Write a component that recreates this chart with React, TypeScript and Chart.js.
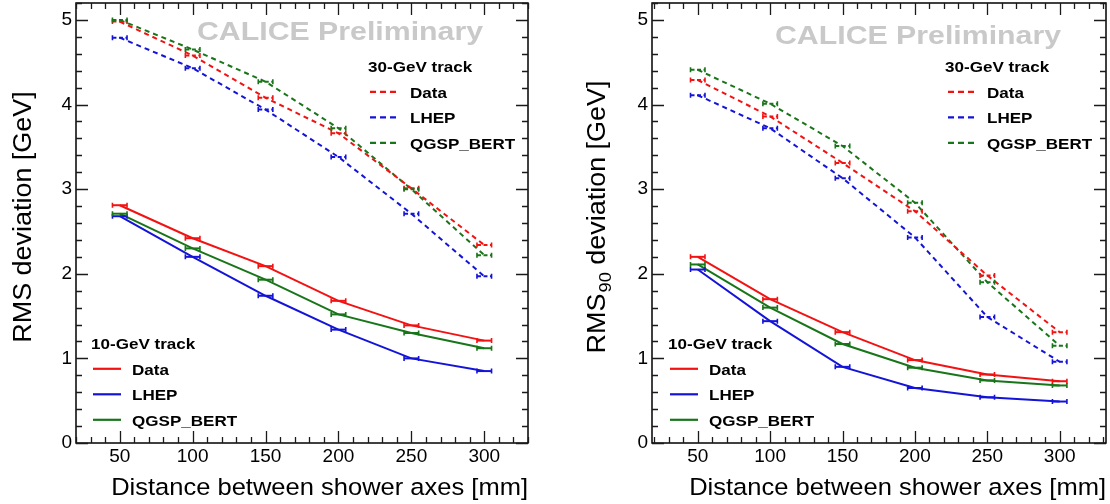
import React, { useEffect, useRef } from 'react';
import { Chart, registerables } from 'chart.js';

Chart.register(...registerables);

// ---------- data ----------
const distances = [50, 100, 150, 200, 250, 300];
const xTickValues = [50, 100, 150, 200, 250, 300];
const yTickValues = [0, 1, 2, 3, 4, 5];
const xErrHalf = 5;
const seriesNames = ['Data', 'LHEP', 'QGSP_BERT'];
const legendTitles = ['30-GeV track', '10-GeV track'];

// left panel: RMS deviation [GeV]
const rms30Data = [4.98, 4.58, 4.08, 3.66, 3.01, 2.34];
const rms30LHEP = [4.79, 4.43, 3.94, 3.38, 2.71, 1.97];
const rms30QGSP = [5.0, 4.65, 4.27, 3.72, 3.0, 2.22];
const rms10Data = [2.81, 2.42, 2.09, 1.68, 1.39, 1.21];
const rms10LHEP = [2.68, 2.2, 1.74, 1.34, 1.0, 0.85];
const rms10QGSP = [2.71, 2.3, 1.93, 1.52, 1.3, 1.12];

// right panel: RMS90 deviation [GeV]
const rms90_30Data = [4.29, 3.86, 3.31, 2.74, 1.98, 1.31];
const rms90_30LHEP = [4.11, 3.72, 3.13, 2.43, 1.49, 0.96];
const rms90_30QGSP = [4.41, 4.01, 3.51, 2.84, 1.9, 1.15];
const rms90_10Data = [2.2, 1.7, 1.31, 0.98, 0.81, 0.73];
const rms90_10LHEP = [2.05, 1.44, 0.9, 0.65, 0.54, 0.49];
const rms90_10QGSP = [2.11, 1.6, 1.17, 0.89, 0.74, 0.68];

const watermark = 'CALICE Preliminary';
const xTitle = 'Distance between shower axes [mm]';

// ---------- style ----------
const FONT = '"Liberation Sans", Arial, Helvetica, sans-serif';
const RED = '#f31212';
const BLUE = '#1414d8';
const GREEN = '#197519';
const colors = [RED, BLUE, GREEN];
const STRETCH = 1.077;

type PanelCfg = {
  left: number;
  yAxisWidth: number;
  padRight: number;
  xMin: number;
  xMax: number;
  series30: number[][];
  series10: number[][];
  yTitleMain: string;
  yTitleSub: string;
  yTitleRest: string;
  yTitleBaseX: number;
  wmX: number;
  wmY: number;
  leg30: { hx: number; sx0: number; sx1: number; tx: number };
  leg10: { hx: number; sx0: number; sx1: number; tx: number };
};

const panels: PanelCfg[] = [
  {
    left: 0,
    yAxisWidth: 76,
    padRight: 27,
    xMin: 20,
    xMax: 330,
    series30: [rms30Data, rms30LHEP, rms30QGSP],
    series10: [rms10Data, rms10LHEP, rms10QGSP],
    yTitleMain: 'RMS',
    yTitleSub: '',
    yTitleRest: ' deviation [GeV]',
    yTitleBaseX: 31,
    wmX: 197,
    wmY: 40,
    leg30: { hx: 368, sx0: 370, sx1: 396, tx: 410 },
    leg10: { hx: 91, sx0: 93, sx1: 121, tx: 132 },
  },
  {
    left: 555,
    yAxisWidth: 97,
    padRight: 4,
    xMin: 18.4,
    xMax: 332,
    series30: [rms90_30Data, rms90_30LHEP, rms90_30QGSP],
    series10: [rms90_10Data, rms90_10LHEP, rms90_10QGSP],
    yTitleMain: 'RMS',
    yTitleSub: '90',
    yTitleRest: ' deviation [GeV]',
    yTitleBaseX: 50,
    wmX: 220,
    wmY: 44,
    leg30: { hx: 390, sx0: 393, sx1: 419, tx: 432 },
    leg10: { hx: 113, sx0: 115, sx1: 143, tx: 154 },
  },
];

function drawStretched(
  ctx: CanvasRenderingContext2D,
  text: string,
  x: number,
  y: number,
  font: string,
  stretch: number,
  align: 'left' | 'right' | 'center' = 'left',
  color = '#000'
) {
  ctx.save();
  ctx.font = font;
  ctx.fillStyle = color;
  const w = ctx.measureText(text).width * stretch;
  let x0 = x;
  if (align === 'right') x0 = x - w;
  else if (align === 'center') x0 = x - w / 2;
  ctx.translate(x0, y);
  ctx.scale(stretch, 1);
  ctx.textAlign = 'left';
  ctx.textBaseline = 'alphabetic';
  ctx.fillText(text, 0, 0);
  ctx.restore();
  return w;
}

function makePlugin(cfg: PanelCfg) {
  return {
    id: 'rootPanel',
    beforeDatasetsDraw(chart: any) {
      const ctx: CanvasRenderingContext2D = chart.ctx;
      ctx.save();
      ctx.font = `bold 26.5px ${FONT}`;
      const nat = ctx.measureText(watermark).width;
      ctx.restore();
      drawStretched(ctx, watermark, cfg.wmX, cfg.wmY, `bold 26.5px ${FONT}`, 286 / nat, 'left', '#c9c9c9');
    },
    afterDatasetsDraw(chart: any) {
      const ctx: CanvasRenderingContext2D = chart.ctx;
      const xs = chart.scales.x;
      const ys = chart.scales.y;
      const area = chart.chartArea;

      // error bars
      chart.data.datasets.forEach((ds: any, i: number) => {
        const meta = chart.getDatasetMeta(i);
        ctx.save();
        ctx.strokeStyle = ds.borderColor;
        ctx.lineWidth = 2;
        meta.data.forEach((el: any, j: number) => {
          const xv = ds.data[j].x;
          const xl = xs.getPixelForValue(xv - xErrHalf);
          const xr = xs.getPixelForValue(xv + xErrHalf);
          const py = el.y;
          ctx.setLineDash(ds.borderDash && ds.borderDash.length ? [4, 2.5] : []);
          ctx.beginPath();
          ctx.moveTo(xl, py);
          ctx.lineTo(xr, py);
          ctx.stroke();
          ctx.setLineDash([]);
          ctx.lineWidth = 1.6;
          ctx.beginPath();
          ctx.moveTo(xl, py - 2.5);
          ctx.lineTo(xl, py + 2.5);
          ctx.moveTo(xr, py - 2.5);
          ctx.lineTo(xr, py + 2.5);
          ctx.stroke();
          ctx.lineWidth = 2;
        });
        ctx.restore();
      });

      // frame and ticks
      ctx.save();
      ctx.strokeStyle = '#000';
      ctx.lineWidth = 1.5;
      ctx.strokeRect(area.left, area.top, area.right - area.left, area.bottom - area.top);
      ctx.lineWidth = 1.3;
      ctx.strokeStyle = '#1a1a1a';
      ctx.beginPath();
      const kStart = Math.ceil(cfg.xMin / 10);
      const kEnd = Math.floor(cfg.xMax / 10);
      for (let k = kStart; k <= kEnd; k++) {
        const v = k * 10;
        const len = v % 50 === 0 ? 12 : 6;
        const px = Math.round(xs.getPixelForValue(v)) + 0.5;
        ctx.moveTo(px, area.bottom);
        ctx.lineTo(px, area.bottom - len);
        ctx.moveTo(px, area.top);
        ctx.lineTo(px, area.top + len);
      }
      for (let k = 0; k <= 26; k++) {
        const v = k * 0.2;
        const len = k % 5 === 0 ? 12 : 6;
        const py = Math.round(ys.getPixelForValue(v)) + 0.5;
        ctx.moveTo(area.left, py);
        ctx.lineTo(area.left + len, py);
        ctx.moveTo(area.right, py);
        ctx.lineTo(area.right - len, py);
      }
      ctx.stroke();
      ctx.restore();

      // legends
      const legFont = `bold 15.5px ${FONT}`;
      const drawLegend = (
        pos: { hx: number; sx0: number; sx1: number; tx: number },
        title: string,
        baseY: number,
        dsOffset: number,
        dashed: boolean
      ) => {
        drawStretched(ctx, title, pos.hx, baseY, legFont, 1.1);
        for (let r = 0; r < 3; r++) {
          const by = baseY + 25.5 * (r + 1);
          const ly = by - 5.7;
          const ds = chart.data.datasets[dsOffset + r];
          ctx.save();
          ctx.strokeStyle = ds.borderColor;
          ctx.lineWidth = 2.2;
          ctx.setLineDash(dashed ? [6, 4] : []);
          ctx.beginPath();
          ctx.moveTo(pos.sx0, ly);
          ctx.lineTo(pos.sx1, ly);
          ctx.stroke();
          ctx.restore();
          drawStretched(ctx, ds.label, pos.tx, by, legFont, 1.1);
        }
      };
      drawLegend(cfg.leg30, legendTitles[0], 72, 0, true);
      drawLegend(cfg.leg10, legendTitles[1], 349, 3, false);

      // x title
      drawStretched(ctx, xTitle, area.right, 495, `23.7px ${FONT}`, STRETCH, 'right');

      // y title (rotated)
      ctx.save();
      const mainFont = `25px ${FONT}`;
      const subFont = `17px ${FONT}`;
      ctx.font = mainFont;
      const w1 = ctx.measureText(cfg.yTitleMain).width;
      const w3 = ctx.measureText(cfg.yTitleRest).width;
      ctx.font = subFont;
      const w2 = cfg.yTitleSub ? ctx.measureText(cfg.yTitleSub).width + 1 : 0;
      const total = w1 + w2 + w3;
      ctx.translate(cfg.yTitleBaseX, 217);
      ctx.rotate(-Math.PI / 2);
      ctx.scale(STRETCH, 1);
      ctx.fillStyle = '#000';
      ctx.textAlign = 'left';
      ctx.textBaseline = 'alphabetic';
      let u = -total / 2;
      ctx.font = mainFont;
      ctx.fillText(cfg.yTitleMain, u, 0);
      u += w1;
      if (cfg.yTitleSub) {
        ctx.font = subFont;
        ctx.fillText(cfg.yTitleSub, u + 1, 6);
        u += w2;
      }
      ctx.font = mainFont;
      ctx.fillText(cfg.yTitleRest, u, 0);
      ctx.restore();
    },
  };
}

function makeDataset(label: string, vals: number[], color: string, dashed: boolean) {
  return {
    label,
    data: distances.map((d, i) => ({ x: d, y: vals[i] })),
    borderColor: color,
    backgroundColor: color,
    borderWidth: 2,
    borderDash: dashed ? [5, 4] : [],
    pointRadius: 0,
    pointHoverRadius: 0,
    tension: 0,
    fill: false,
  };
}

function Panel({ cfg }: { cfg: PanelCfg }) {
  const ref = useRef<HTMLCanvasElement>(null);
  useEffect(() => {
    const datasets = [
      ...cfg.series30.map((v, i) => makeDataset(seriesNames[i], v, colors[i], true)),
      ...cfg.series10.map((v, i) => makeDataset(seriesNames[i], v, colors[i], false)),
    ];
    const tickFont = { family: FONT, size: 19, lineHeight: 1 };
    const chart = new Chart(ref.current as HTMLCanvasElement, {
      type: 'line',
      data: { datasets } as any,
      options: {
        responsive: false,
        animation: false,
        devicePixelRatio: 1,
        layout: { padding: { left: 0, right: cfg.padRight, top: 3, bottom: 0 } },
        plugins: { legend: { display: false }, tooltip: { enabled: false } },
        events: [],
        scales: {
          x: {
            type: 'linear',
            min: cfg.xMin,
            max: cfg.xMax,
            afterFit: (s: any) => {
              s.height = 61;
              s.paddingLeft = 0;
              s.paddingRight = 0;
            },
            afterBuildTicks: (s: any) => {
              s.ticks = xTickValues.map((v) => ({ value: v }));
            },
            grid: { display: false, drawTicks: false },
            border: { display: false },
            ticks: {
              font: tickFont,
              color: '#000',
              padding: 4,
              maxRotation: 0,
              autoSkip: false,
              callback: (v: any) => String(v),
            },
          },
          y: {
            type: 'linear',
            min: 0,
            max: 5.2,
            afterFit: (s: any) => {
              s.width = cfg.yAxisWidth;
              s.paddingTop = 0;
              s.paddingBottom = 0;
            },
            afterBuildTicks: (s: any) => {
              s.ticks = yTickValues.map((v) => ({ value: v }));
            },
            grid: { display: false, drawTicks: false },
            border: { display: false },
            ticks: {
              font: tickFont,
              color: '#000',
              padding: 4,
              autoSkip: false,
              callback: (v: any) => String(v),
            },
          },
        },
      } as any,
      plugins: [makePlugin(cfg)],
    });
    return () => chart.destroy();
  }, [cfg]);
  return (
    <canvas
      ref={ref}
      width={555}
      height={504}
      style={{ position: 'absolute', left: cfg.left, top: 0, width: 555, height: 504 }}
    />
  );
}

export default function App() {
  return (
    <div style={{ position: 'absolute', left: 0, top: 0, width: 1110, height: 504, background: '#fff' }}>
      {panels.map((p, i) => (
        <Panel key={i} cfg={p} />
      ))}
    </div>
  );
}
